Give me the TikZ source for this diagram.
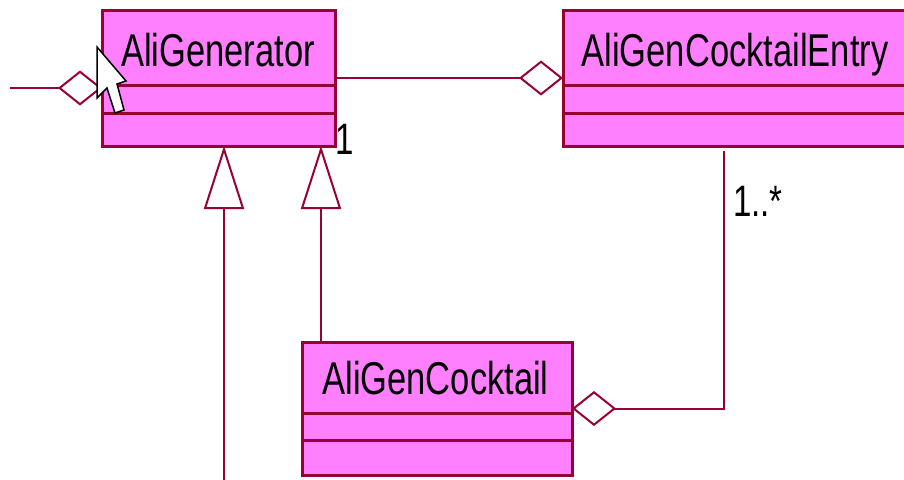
\documentclass[tikz,border=0pt]{standalone}
\usepackage{fontspec}
\newfontfamily\umlfont[FakeStretch=0.75]{Liberation Sans}
\usetikzlibrary{arrows.meta,calc}
\definecolor{umlfill}{RGB}{255,128,255}
\definecolor{umlline}{RGB}{153,0,51}
\begin{document}
\begin{tikzpicture}[x=1pt,y=-1pt,
 classbox/.style={draw=umlline, line width=3pt, fill=umlfill, inner sep=0pt, outer sep=0pt},
 classname/.style={font=\umlfont\fontsize{46}{46}\selectfont, inner sep=0pt, anchor=base},
 mult/.style={font=\umlfont\fontsize{44}{44}\selectfont, inner sep=0pt, anchor=base},
 link/.style={draw=umlline, line width=2pt},
 agg/.style={link, -{Diamond[open, length=44pt, width=35pt]}},
 inh/.style={link, -{Triangle[open, length=63pt, width=40pt]}},
 divider/.style={draw=umlline, line width=3pt}]

\useasboundingbox (0,0) rectangle (904,479);
\fill[white] (0,0) rectangle (904,479);

% classes
\node[classbox, minimum width=233pt, minimum height=136pt] (gen) at (218.5,78) {};
\node[classbox, minimum width=350pt, minimum height=136pt] (entry) at (738,78) {};
\node[classbox, minimum width=270pt, minimum height=133pt] (cock) at (437,408.5) {};

\draw[divider] ($(gen.north west)+(0,75)$) -- ($(gen.north east)+(0,75)$);
\draw[divider] ($(gen.north west)+(0,103)$) -- ($(gen.north east)+(0,103)$);
\draw[divider] ($(entry.north west)+(0,75)$) -- ($(entry.north east)+(0,75)$);
\draw[divider] ($(entry.north west)+(0,103)$) -- ($(entry.north east)+(0,103)$);
\draw[divider] ($(cock.north west)+(0,71)$) -- ($(cock.north east)+(0,71)$);
\draw[divider] ($(cock.north west)+(0,98)$) -- ($(cock.north east)+(0,98)$);

\node[classname] (genname) at (218,66) {AliGenerator};
\node[classname] (entryname) at (735,66) {AliGenCocktailEntry};
\node[classname] (cockname) at (435.5,394) {AliGenCocktail};

% connectors
\coordinate (lend) at (10,88);
\draw[agg] (lend) -- (gen.west |- lend);
\draw[agg] (gen.east) -- (entry.west);

\coordinate (inhL) at (224,490);
\draw[inh] (inhL) -- (gen.south -| inhL);
\coordinate (inhR) at ($(cock.north west)+(19,0)$);
\draw[inh] (inhR) -- (gen.south -| inhR);

\coordinate (eb) at (724,151);
\draw[agg] (eb) |- (cock.east);

% multiplicities
\node[mult] (m1) at (345,154) {1};
\node[mult] (m2) at (758,216) {1..*};

% mouse cursor
\draw[black, line width=1.5pt, fill=white, line join=miter]
  (97,47) -- (97,98) -- (107,88) -- (115,113) -- (124,110) -- (117,84) -- (126,81) -- cycle;
\end{tikzpicture}
\end{document}
